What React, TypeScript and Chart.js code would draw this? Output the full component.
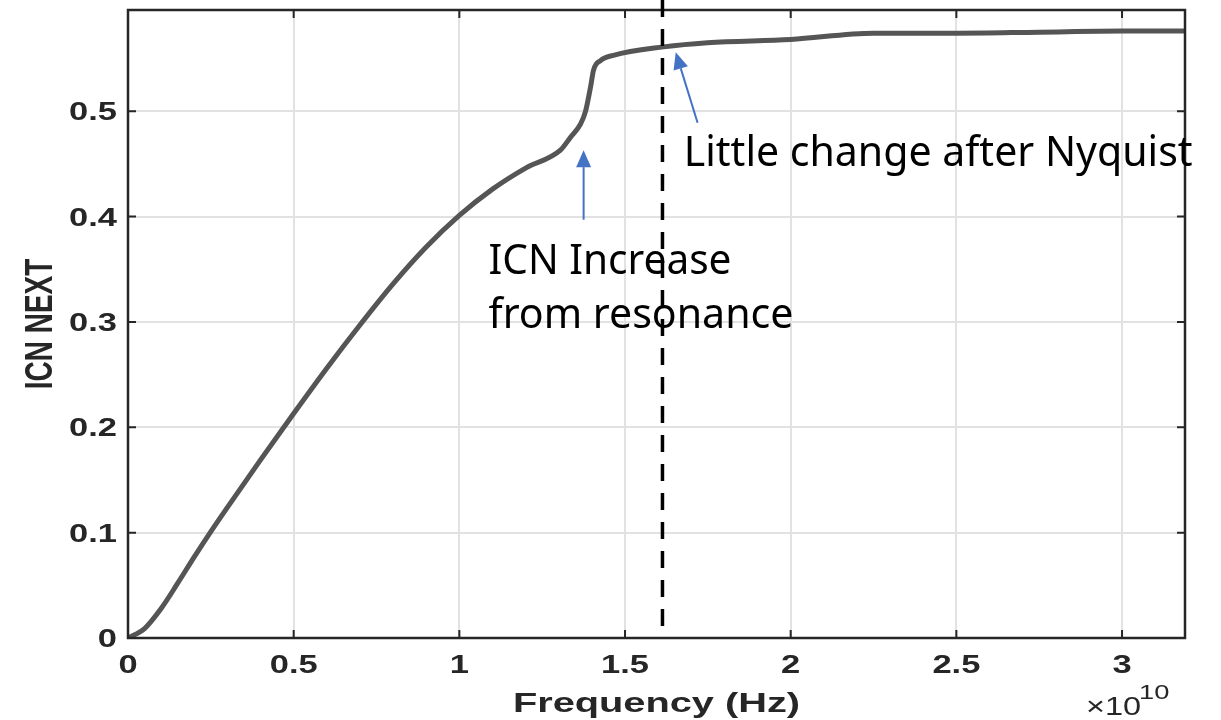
import React, { useEffect, useRef } from 'react';
import { Chart, registerables } from 'chart.js';

Chart.register(...registerables);

// Frequency in units of 1e10 Hz (axis shows ×10^10)
const frequencyE10 = [
  0, 0.05, 0.1, 0.15, 0.2, 0.25, 0.3, 0.4, 0.5, 0.6, 0.7, 0.8, 0.9, 1.0, 1.1, 1.2,
  1.305, 1.335, 1.366, 1.381, 1.396, 1.405, 1.426, 1.465, 1.616, 1.749, 2.0, 2.25,
  2.5, 2.75, 3.0, 3.19,
];
const icnNext = [
  0, 0.009, 0.028, 0.052, 0.077, 0.101, 0.124, 0.169, 0.213, 0.256, 0.297, 0.336, 0.371,
  0.401, 0.426, 0.446, 0.463, 0.475, 0.488, 0.5, 0.523, 0.539, 0.548, 0.553, 0.561, 0.565,
  0.568, 0.574, 0.574, 0.575, 0.576, 0.576,
];

const xMax = 3.19;
const yMax = 0.596;
const xStep = 0.5;
const yStep = 0.1;
const nyquistE10 = 1.613;

const xTitle = 'Frequency (Hz)';
const yTitle = 'ICN NEXT';
const exponentBase = '×10';
const exponentPower = '10';

// annotation texts: [text, x (1e10 Hz), y (ICN), maxWidth px]
const noteTexts: [string, number, number, number][] = [
  ['Little change after Nyquist', 1.677, 0.448, 509],
  ['ICN Increase', 1.088, 0.345, 243],
  ['from resonance', 1.088, 0.294, 305],
];
// arrows: [tailX, tailY, tipX, tipY]
const noteArrows: [number, number, number, number][] = [
  [1.375, 0.397, 1.375, 0.463],
  [1.719, 0.489, 1.653, 0.556],
];

const AXIS_COLOR = '#262626';
const STRETCH = 1.38;
const TICK_FONT = 'bold 25px "Liberation Sans", Arial, sans-serif';
const TITLE_FONT = 'bold 28px "Liberation Sans", Arial, sans-serif';

function fmt(v: number) {
  return String(Number(v.toFixed(3)));
}

function stretchedText(
  ctx: CanvasRenderingContext2D,
  text: string,
  x: number,
  y: number,
  align: CanvasTextAlign,
  sx: number
) {
  ctx.save();
  ctx.translate(x, y);
  ctx.scale(sx, 1);
  ctx.textAlign = align;
  ctx.fillText(text, 0, 0);
  ctx.restore();
}

const decorPlugin = {
  id: 'decor',
  afterDraw(chart: any) {
    const { ctx, chartArea: a } = chart;
    const xs = chart.scales.x;
    const ys = chart.scales.y;
    ctx.save();

    // box
    ctx.strokeStyle = AXIS_COLOR;
    ctx.lineWidth = 2.5;
    ctx.strokeRect(a.left, a.top, a.right - a.left, a.bottom - a.top);

    // inward ticks
    ctx.lineWidth = 2;
    const tl = 8;
    ctx.beginPath();
    xs.ticks.forEach((t: any) => {
      const px = xs.getPixelForValue(t.value);
      ctx.moveTo(px, a.bottom);
      ctx.lineTo(px, a.bottom - tl);
      ctx.moveTo(px, a.top);
      ctx.lineTo(px, a.top + tl);
    });
    ys.ticks.forEach((t: any) => {
      const py = ys.getPixelForValue(t.value);
      ctx.moveTo(a.left, py);
      ctx.lineTo(a.left + tl, py);
      ctx.moveTo(a.right, py);
      ctx.lineTo(a.right - tl, py);
    });
    ctx.stroke();

    // tick labels
    ctx.fillStyle = AXIS_COLOR;
    ctx.font = TICK_FONT;
    ctx.textBaseline = 'alphabetic';
    xs.ticks.forEach((t: any) => {
      const px = xs.getPixelForValue(t.value);
      stretchedText(ctx, fmt(t.value), px, a.bottom + 35, 'center', STRETCH);
    });
    ys.ticks.forEach((t: any) => {
      const py = ys.getPixelForValue(t.value);
      stretchedText(ctx, fmt(t.value), a.left - 11, py + 9, 'right', STRETCH);
    });

    // axis titles
    ctx.font = TITLE_FONT;
    stretchedText(ctx, xTitle, (a.left + a.right) / 2, 712, 'center', 1.42);
    ctx.save();
    ctx.translate(52, (a.top + a.bottom) / 2);
    ctx.rotate(-Math.PI / 2);
    ctx.scale(1, 1.4);
    ctx.textAlign = 'center';
    ctx.fillText(yTitle, 0, 0);
    ctx.restore();

    // exponent
    ctx.font = '26px "Liberation Sans", Arial, sans-serif';
    stretchedText(ctx, exponentBase, 1086, 715, 'left', 1.25);
    ctx.font = '21px "Liberation Sans", Arial, sans-serif';
    stretchedText(ctx, exponentPower, 1139, 699, 'left', 1.3);

    // Nyquist dashed line
    const nx = xs.getPixelForValue(nyquistE10);
    ctx.strokeStyle = '#000';
    ctx.lineWidth = 3.5;
    ctx.setLineDash([17, 12]);
    ctx.beginPath();
    ctx.moveTo(nx, 0);
    ctx.lineTo(nx, a.bottom - 6);
    ctx.stroke();
    ctx.setLineDash([]);

    // arrows
    ctx.strokeStyle = '#4472C4';
    ctx.fillStyle = '#4472C4';
    ctx.lineWidth = 2;
    noteArrows.forEach(([x0, y0, x1, y1]) => {
      const p0x = xs.getPixelForValue(x0);
      const p0y = ys.getPixelForValue(y0);
      const p1x = xs.getPixelForValue(x1);
      const p1y = ys.getPixelForValue(y1);
      const ang = Math.atan2(p1y - p0y, p1x - p0x);
      const hl = 17;
      const hw = 7.5;
      const bx = p1x - hl * Math.cos(ang);
      const by = p1y - hl * Math.sin(ang);
      ctx.beginPath();
      ctx.moveTo(p0x, p0y);
      ctx.lineTo(bx, by);
      ctx.stroke();
      ctx.beginPath();
      ctx.moveTo(p1x, p1y);
      ctx.lineTo(bx + hw * Math.sin(ang), by - hw * Math.cos(ang));
      ctx.lineTo(bx - hw * Math.sin(ang), by + hw * Math.cos(ang));
      ctx.closePath();
      ctx.fill();
    });

    // annotation text
    ctx.fillStyle = '#000';
    ctx.font = '42px "Noto Sans", "Open Sans", sans-serif';
    ctx.textAlign = 'left';
    ctx.textBaseline = 'alphabetic';
    noteTexts.forEach(([txt, tx, ty, mw]) => {
      ctx.fillText(txt, xs.getPixelForValue(tx), ys.getPixelForValue(ty), mw);
    });

    ctx.restore();
  },
};

function keepMultiples(step: number) {
  return (scale: any) => {
    scale.ticks = scale.ticks.filter((t: any) => {
      const r = t.value / step;
      return Math.abs(r - Math.round(r)) < 1e-6;
    });
  };
}

export default function App() {
  const canvasRef = useRef<HTMLCanvasElement | null>(null);

  useEffect(() => {
    const canvas = canvasRef.current;
    if (!canvas) return;
    const data = frequencyE10.map((f, i) => ({ x: f, y: icnNext[i] }));
    const chart = new Chart(canvas, {
      type: 'line',
      data: {
        datasets: [
          {
            data,
            borderColor: '#555555',
            borderWidth: 5,
            pointRadius: 0,
            fill: false,
            cubicInterpolationMode: 'monotone',
          } as any,
        ],
      },
      options: {
        responsive: false,
        animation: false,
        layout: { padding: { left: 0, top: 10, right: 36, bottom: 0 } },
        plugins: { legend: { display: false }, tooltip: { enabled: false } },
        scales: {
          x: {
            type: 'linear',
            min: 0,
            max: xMax,
            ticks: { stepSize: xStep, display: false },
            grid: { color: '#e2e2e2', lineWidth: 2, drawTicks: false },
            border: { display: false },
            afterBuildTicks: keepMultiples(xStep),
            afterFit: (s: any) => {
              s.height = 82;
            },
          },
          y: {
            type: 'linear',
            min: 0,
            max: yMax,
            ticks: { stepSize: yStep, display: false },
            grid: { color: '#e2e2e2', lineWidth: 2, drawTicks: false },
            border: { display: false },
            afterBuildTicks: keepMultiples(yStep),
            afterFit: (s: any) => {
              s.width = 128;
            },
          },
        },
      } as any,
      plugins: [decorPlugin],
    });
    return () => chart.destroy();
  }, []);

  return (
    <div style={{ position: 'absolute', left: 0, top: 0, width: 1221, height: 720, background: '#fff' }}>
      <canvas ref={canvasRef} width={1221} height={720} style={{ display: 'block' }} />
    </div>
  );
}
